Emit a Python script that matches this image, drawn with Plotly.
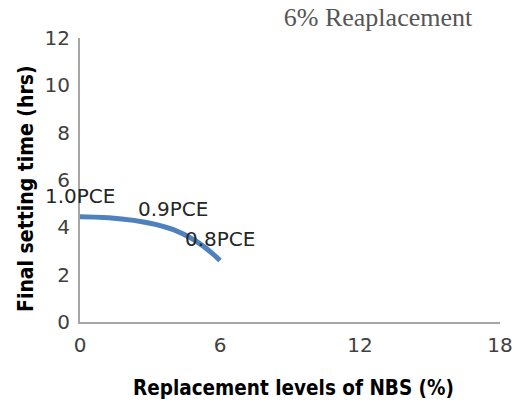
import plotly.graph_objects as go

# Data
replacement = [0, 4, 6]
setting_time = [4.45, 3.9, 2.6]
point_labels = ["1.0PCE", "0.9PCE", "0.8PCE"]
x_ticks = [0, 6, 12, 18]
y_ticks = [0, 2, 4, 6, 8, 10, 12]

fig = go.Figure()
fig.add_trace(go.Scatter(
    x=replacement, y=setting_time, mode="lines",
    line=dict(color="#4F81BD", width=5, shape="spline", smoothing=1.3),
    showlegend=False, hoverinfo="skip",
))

for xv, yv, lab in zip(replacement, setting_time, point_labels):
    fig.add_annotation(x=xv, y=yv, text=lab, showarrow=False, yshift=21,
                       xanchor="center", yanchor="middle",
                       font=dict(family="DejaVu Sans", size=20, color="#262626"))

axis_font = dict(family="DejaVu Sans", size=20, color="#404040")
fig.update_xaxes(range=[0, 18], tickvals=x_ticks, showgrid=False, zeroline=False,
                 showline=True, linecolor="#A6A6A6", linewidth=2, ticks="",
                 tickfont=axis_font, ticklabelstandoff=4)
fig.update_yaxes(range=[0, 12], tickvals=y_ticks, showgrid=False, zeroline=False,
                 showline=True, linecolor="#A6A6A6", linewidth=2, ticks="",
                 tickfont=axis_font, ticklabelstandoff=4)

fig.add_annotation(text="Final setting time (hrs)", xref="paper", yref="paper",
                   x=(26 - 80) / 420, y=(322 - 189) / 284, textangle=-90, showarrow=False,
                   xanchor="center", yanchor="middle",
                   font=dict(family="DejaVu Sans Condensed", size=21, color="#000000", weight="bold"))
fig.add_annotation(text="Replacement levels of NBS (%)", xref="paper", yref="paper",
                   x=(293 - 80) / 420, y=(322 - 388) / 284, showarrow=False,
                   xanchor="center", yanchor="middle",
                   font=dict(family="DejaVu Sans Condensed", size=20.5, color="#000000", weight="bold"))

fig.update_layout(
    width=526, height=405,
    margin=dict(l=80, r=26, t=38, b=83, autoexpand=False),
    paper_bgcolor="white", plot_bgcolor="white",
    title=dict(text="6% Reaplacement", xref="container", yref="container",
               x=378 / 526, y=1 - 17 / 405, xanchor="center", yanchor="middle",
               font=dict(family="Liberation Serif", size=26, color="#555555")),
)

fig.write_html("out.html", config={"displayModeBar": False},
               post_script="document.body.style.margin='0';")
